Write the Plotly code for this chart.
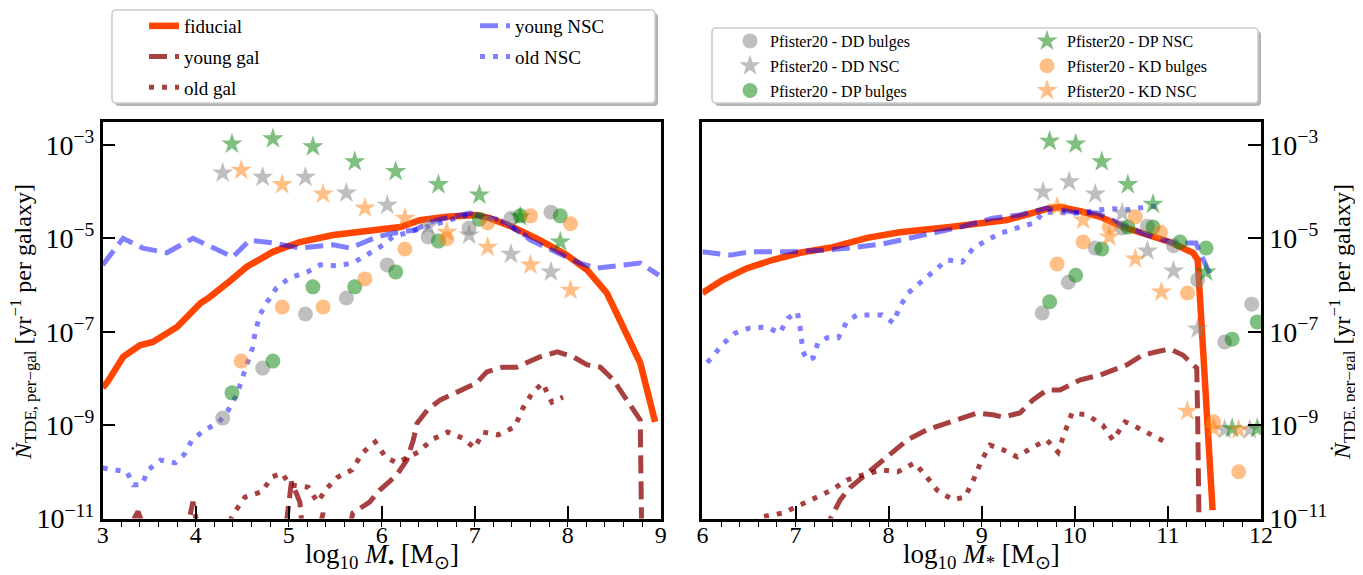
import plotly.graph_objects as go
import numpy as np

# ---------------- DATA (y values stored as log10 of the rate) ----------------
# Left panel: x = log10 M_bh
fid_L_x = [3.0, 3.05, 3.22, 3.40, 3.54, 3.80, 4.05, 4.15, 4.34, 4.55, 4.83, 5.12, 5.48, 5.84, 6.20, 6.41, 6.70, 7.02, 7.16, 7.41, 7.70, 7.99, 8.21, 8.42, 8.46, 8.56, 8.78, 8.94]
fid_L_y = [-8.2, -8.08, -7.54, -7.29, -7.22, -6.90, -6.39, -6.26, -5.96, -5.61, -5.29, -5.08, -4.93, -4.86, -4.76, -4.61, -4.54, -4.50, -4.57, -4.76, -5.04, -5.36, -5.68, -6.17, -6.32, -6.75, -7.67, -8.93]

ygal_L_x = [3.2, 3.38, 3.5, 3.88, 3.97, 4.05, 4.95, 5.03, 5.12, 5.16, 5.30, 5.37, 5.42, 5.62, 5.69, 5.87, 5.98, 6.16, 6.27, 6.34, 6.38, 6.49, 6.63, 6.84, 7.02, 7.13, 7.30, 7.45, 7.70, 7.89, 8.06, 8.21, 8.35, 8.49, 8.64, 8.78, 8.80]
ygal_L_y = [-11.5, -10.85, -11.5, -11.5, -10.64, -11.5, -11.5, -10.21, -10.65, -11.5, -11.5, -10.88, -11.5, -11.5, -10.88, -10.65, -10.39, -10.07, -9.75, -9.32, -8.96, -8.68, -8.46, -8.25, -8.10, -7.86, -7.76, -7.76, -7.54, -7.43, -7.54, -7.71, -7.76, -8.03, -8.46, -8.89, -12.0]

ogal_L_x = [4.30, 4.42, 4.53, 4.71, 4.82, 4.93, 5.01, 5.21, 5.31, 5.41, 5.53, 5.68, 5.79, 5.93, 6.04, 6.16, 6.22, 6.39, 6.55, 6.71, 6.87, 7.00, 7.09, 7.25, 7.43, 7.52, 7.62, 7.73, 7.83, 7.95]
ogal_L_y = [-11.3, -10.86, -10.54, -10.43, -10.11, -10.03, -10.28, -10.33, -10.65, -10.35, -10.11, -9.96, -9.60, -9.36, -9.68, -9.81, -9.75, -9.58, -9.30, -9.15, -9.28, -9.49, -9.15, -9.21, -9.04, -8.63, -8.31, -8.10, -8.51, -8.40]

ynsc_L_x = [3.0, 3.22, 3.43, 3.69, 3.97, 4.19, 4.40, 4.58, 4.83, 5.12, 5.48, 5.66, 5.95, 6.12, 6.34, 6.59, 6.95, 7.06, 7.30, 7.60, 7.89, 8.13, 8.31, 8.56, 8.78, 8.98]
ynsc_L_y = [-5.57, -5.00, -5.21, -5.31, -5.00, -5.19, -5.40, -5.04, -5.10, -5.21, -5.14, -5.21, -4.97, -4.89, -4.83, -4.61, -4.46, -4.54, -4.61, -5.04, -5.31, -5.53, -5.64, -5.57, -5.53, -5.79]

onsc_L_x = [3.0, 3.10, 3.26, 3.33, 3.42, 3.49, 3.62, 3.78, 3.88, 3.96, 4.10, 4.24, 4.35, 4.44, 4.50, 4.61, 4.64, 4.69, 4.77, 4.87, 5.01, 5.20, 5.34, 5.52, 5.69, 5.84, 5.98, 6.12, 6.34, 6.63, 6.95, 7.27, 7.60]
onsc_L_y = [-9.92, -9.96, -10.00, -10.28, -10.28, -9.96, -9.75, -9.81, -9.62, -9.32, -9.10, -8.96, -8.68, -8.36, -8.03, -7.35, -7.01, -6.64, -6.36, -6.06, -5.85, -5.72, -5.57, -5.59, -5.53, -5.36, -5.19, -4.97, -4.84, -4.65, -4.48, -4.61, -5.00]

# Pfister20 points, left panel
ddb_L_x = [4.29, 4.72, 5.18, 5.62, 6.06, 6.50, 6.94, 7.39, 7.82]
ddb_L_y = [-8.85, -7.78, -6.62, -6.28, -5.57, -4.97, -4.78, -4.57, -4.44]
ddn_L_x = [4.29, 4.72, 5.18, 5.62, 6.06, 6.50, 6.94, 7.39, 7.82]
ddn_L_y = [-3.60, -3.69, -3.69, -4.03, -4.29, -4.74, -4.93, -5.34, -5.72]
dpb_L_x = [4.39, 4.83, 5.26, 5.71, 6.15, 6.61, 7.05, 7.49, 7.92]
dpb_L_y = [-8.31, -7.63, -6.04, -6.04, -5.72, -5.06, -4.59, -4.52, -4.52]
dpn_L_x = [4.39, 4.83, 5.26, 5.71, 6.15, 6.61, 7.05, 7.49, 7.92]
dpn_L_y = [-2.98, -2.87, -3.04, -3.36, -3.57, -3.85, -4.07, -4.54, -5.08]
kdb_L_x = [4.49, 4.93, 5.37, 5.82, 6.25, 6.70, 7.14, 7.60, 8.03]
kdb_L_y = [-7.63, -6.47, -6.47, -5.87, -5.23, -5.01, -4.67, -4.52, -4.69]
kdn_L_x = [4.49, 4.93, 5.37, 5.82, 6.25, 6.70, 7.14, 7.60, 8.03]
kdn_L_y = [-3.54, -3.85, -4.05, -4.35, -4.57, -4.87, -5.19, -5.57, -6.11]

# Right panel: x = log10 M_star
fid_R_x = [6.0, 6.22, 6.48, 6.76, 7.05, 7.40, 7.77, 8.12, 8.66, 8.98, 9.27, 9.70, 9.84, 10.06, 10.27, 10.52, 10.78, 11.02, 11.27, 11.32, 11.38, 11.45, 11.48]
fid_R_y = [-6.17, -5.89, -5.64, -5.46, -5.31, -5.19, -4.99, -4.87, -4.76, -4.69, -4.61, -4.37, -4.33, -4.42, -4.54, -4.76, -4.93, -5.08, -5.31, -5.46, -7.46, -9.60, -10.82]

ygal_R_x = [7.30, 7.40, 7.48, 7.59, 7.77, 7.98, 8.20, 8.41, 8.63, 8.80, 8.95, 9.12, 9.23, 9.41, 9.55, 9.70, 9.84, 10.06, 10.27, 10.56, 10.73, 10.88, 11.02, 11.16, 11.31, 11.32, 11.34]
ygal_R_y = [-11.3, -10.88, -10.60, -10.33, -10.03, -9.68, -9.32, -9.10, -8.96, -8.83, -8.74, -8.78, -8.83, -8.74, -8.46, -8.25, -8.25, -8.03, -7.93, -7.71, -7.50, -7.43, -7.37, -7.50, -7.78, -8.89, -12.0]

ogal_R_x = [6.45, 6.62, 6.87, 7.02, 7.21, 7.39, 7.55, 7.72, 7.93, 8.10, 8.28, 8.41, 8.52, 8.69, 8.82, 8.91, 9.00, 9.09, 9.23, 9.38, 9.55, 9.70, 9.82, 9.89, 9.97, 10.13, 10.30, 10.41, 10.54, 10.64, 10.82, 10.99]
ogal_R_y = [-11.3, -10.97, -10.88, -10.75, -10.56, -10.39, -10.18, -10.07, -9.96, -10.00, -9.81, -10.11, -10.39, -10.60, -10.54, -10.18, -9.75, -9.43, -9.53, -9.68, -9.47, -9.32, -9.58, -9.17, -8.74, -8.78, -9.00, -9.32, -8.93, -9.02, -9.21, -9.38]

ynsc_R_x = [6.0, 6.30, 6.51, 6.97, 7.34, 7.58, 7.94, 8.30, 8.77, 9.12, 9.41, 9.70, 9.98, 10.24, 10.52, 10.78, 11.06, 11.30, 11.48]
ynsc_R_y = [-5.29, -5.36, -5.29, -5.29, -5.25, -5.21, -5.12, -4.97, -4.76, -4.57, -4.50, -4.35, -4.44, -4.46, -4.72, -4.93, -5.10, -5.10, -5.90]

onsc_R_x = [6.05, 6.10, 6.21, 6.35, 6.51, 6.69, 6.83, 6.92, 7.02, 7.05, 7.08, 7.13, 7.19, 7.24, 7.34, 7.46, 7.55, 7.66, 7.80, 7.93, 8.05, 8.12, 8.21, 8.34, 8.48, 8.63, 8.79, 8.91, 9.06, 9.20, 9.41, 9.57, 9.66, 9.84, 10.06, 10.27, 10.41, 10.59, 10.81, 10.94]
onsc_R_y = [-7.66, -7.56, -7.28, -7.03, -6.92, -6.90, -7.03, -6.71, -6.58, -6.92, -7.43, -7.61, -7.56, -7.24, -7.13, -7.13, -6.79, -6.64, -6.64, -6.64, -6.81, -6.47, -6.17, -5.96, -5.72, -5.46, -5.51, -5.21, -5.04, -4.89, -4.76, -4.67, -4.44, -4.46, -4.46, -4.39, -4.37, -4.39, -4.31, -4.33]

# Pfister20 points, right panel
ddb_R_x = [9.65, 9.93, 10.22, 10.51, 10.78, 11.06, 11.32, 11.61, 11.90]
ddb_R_y = [-6.60, -5.94, -5.21, -4.78, -4.74, -5.16, -5.89, -7.22, -6.41]
ddn_R_x = [9.66, 9.94, 10.22, 10.51, 10.78, 11.06, 11.32, 11.61, 11.88]
ddn_R_y = [-4.01, -3.79, -4.05, -4.46, -5.27, -5.70, -6.94, -9.10, -9.10]
dpb_R_x = [9.73, 10.01, 10.29, 10.57, 10.84, 11.13, 11.41, 11.69, 11.96]
dpb_R_y = [-6.36, -5.79, -5.23, -4.76, -4.76, -5.08, -5.21, -7.16, -6.79]
dpn_R_x = [9.73, 10.01, 10.29, 10.57, 10.84, 11.41, 11.69, 11.96]
dpn_R_y = [-2.92, -2.98, -3.36, -3.85, -4.27, -5.72, -9.07, -9.07]
kdb_R_x = [9.81, 10.09, 10.37, 10.65, 10.92, 11.21, 11.49, 11.76]
kdb_R_y = [-5.55, -5.08, -4.76, -4.54, -4.87, -6.17, -8.93, -10.00]
kdn_R_x = [9.81, 10.09, 10.37, 10.65, 10.93, 11.21, 11.49, 11.76]
kdn_R_y = [-4.33, -4.61, -4.97, -5.44, -6.15, -8.70, -9.07, -9.10]

y_tick_exp = [-11, -9, -7, -5, -3]
x_ticks_L = [3, 4, 5, 6, 7, 8, 9]
x_ticks_R = [6, 7, 8, 9, 10, 11, 12]

# ---------------- STYLE ----------------
SERIF = "Liberation Serif"
# the page places the figure 8 px from the window's top-left corner
OFF = 8
WIN_W, WIN_H = 1363, 575
W, H = WIN_W - OFF, WIN_H - OFF
C_FID = "#ff4500"
C_GAL = "rgba(139,0,0,0.75)"
C_NSC = "rgba(0,0,255,0.5)"
C_GREY = "rgba(128,128,128,0.5)"
C_GREEN = "rgba(0,128,0,0.5)"
C_ORANGE = "rgba(255,127,14,0.5)"
DASH = "18px,8px"
DOT = "5px,8px"

def pw(v):
    return [10.0 ** e for e in v]

fig = go.Figure()

line_specs = [
    ("fiducial", fid_L_x, fid_L_y, fid_R_x, fid_R_y, C_FID, "solid", 6.5, "legend"),
    ("young gal", ygal_L_x, ygal_L_y, ygal_R_x, ygal_R_y, C_GAL, DASH, 5, "legend"),
    ("old gal", ogal_L_x, ogal_L_y, ogal_R_x, ogal_R_y, C_GAL, DOT, 5, "legend"),
    ("young NSC", ynsc_L_x, ynsc_L_y, ynsc_R_x, ynsc_R_y, C_NSC, DASH, 5, "legend2"),
    ("old NSC", onsc_L_x, onsc_L_y, onsc_R_x, onsc_R_y, C_NSC, DOT, 5, "legend2"),
]
for name, lx, ly, rx, ry, col, dash, wd, lg in line_specs:
    fig.add_trace(go.Scatter(x=lx, y=pw(ly), mode="lines", name=name,
                             line=dict(color=col, width=wd, dash=dash),
                             legend=lg, legendgroup=name, showlegend=True,
                             xaxis="x", yaxis="y"))
    fig.add_trace(go.Scatter(x=rx, y=pw(ry), mode="lines", name=name,
                             line=dict(color=col, width=wd, dash=dash),
                             legend=lg, legendgroup=name, showlegend=False,
                             xaxis="x2", yaxis="y2"))

pt_specs = [
    ("Pfister20 - DD bulges", ddb_L_x, ddb_L_y, ddb_R_x, ddb_R_y, C_GREY, "circle", "legend3"),
    ("Pfister20 - DD NSC", ddn_L_x, ddn_L_y, ddn_R_x, ddn_R_y, C_GREY, "star", "legend3"),
    ("Pfister20 - DP bulges", dpb_L_x, dpb_L_y, dpb_R_x, dpb_R_y, C_GREEN, "circle", "legend3"),
    ("Pfister20 - DP NSC", dpn_L_x, dpn_L_y, dpn_R_x, dpn_R_y, C_GREEN, "star", "legend4"),
    ("Pfister20 - KD bulges", kdb_L_x, kdb_L_y, kdb_R_x, kdb_R_y, C_ORANGE, "circle", "legend4"),
    ("Pfister20 - KD NSC", kdn_L_x, kdn_L_y, kdn_R_x, kdn_R_y, C_ORANGE, "star", "legend4"),
]
for name, lx, ly, rx, ry, col, sym, lg in pt_specs:
    size = 15 if sym == "circle" else 16
    mk = dict(color=col, symbol=sym, size=size, line=dict(width=0))
    fig.add_trace(go.Scatter(x=lx, y=pw(ly), mode="markers", name=name, marker=mk,
                             legend=lg, legendgroup=name, showlegend=True,
                             xaxis="x", yaxis="y"))
    fig.add_trace(go.Scatter(x=rx, y=pw(ry), mode="markers", name=name, marker=mk,
                             legend=lg, legendgroup=name, showlegend=False,
                             xaxis="x2", yaxis="y2"))

# ---------------- AXES ----------------
# positions below are given in window pixels
def px2fx(p):
    return (p - OFF) / W

def py2fy(p):
    return 1 - (p - OFF) / H

tick_text = ["10<sup>\u2212%d</sup>" % (-e) for e in y_tick_exp]
tick_vals = [10.0 ** e for e in y_tick_exp]

common_x = dict(showgrid=False, zeroline=False, showline=True, linecolor="black", linewidth=2.5,
                mirror=True, ticks="inside", ticklen=13, tickwidth=2.2, tickcolor="black",
                tickfont=dict(family=SERIF, size=24, color="black"), automargin=False,
                ticklabelstandoff=-7,
                minor=dict(ticks="outside", ticklen=6, tickwidth=1.4, tickcolor="black", dtick=0.2))
common_y = dict(type="log", range=[-11, -2.51], showgrid=False, zeroline=False, showline=True,
                linecolor="black", linewidth=2.5, mirror=True, ticks="inside", ticklen=13,
                tickwidth=2.2, tickcolor="black", tickvals=tick_vals, ticktext=tick_text,
                tickfont=dict(family=SERIF, size=28, color="black"), automargin=False)

fig.update_layout(
    xaxis=dict(domain=[px2fx(102.7), px2fx(660.7)], range=[3, 9], tickvals=x_ticks_L,
               anchor="y", **common_x),
    yaxis=dict(domain=[py2fy(518.5), py2fy(122)], anchor="x", side="left", **common_y),
    xaxis2=dict(domain=[px2fx(702.4), px2fx(1261)], range=[6, 12], tickvals=x_ticks_R,
                anchor="y2", **common_x),
    yaxis2=dict(domain=[py2fy(518.5), py2fy(122)], anchor="x2", side="right", **common_y),
)

# axis titles as annotations
ytitle = "<i>\u1e44</i><sub>TDE, per\u2212gal</sub> [yr<sup>\u22121</sup> per galaxy]"
xtitle_L = "log<sub>10</sub> <i>M</i><sub>\u2022</sub> [M<sub>\u2299</sub>]"
xtitle_R = "log<sub>10</sub> <i>M</i><sub>*</sub> [M<sub>\u2299</sub>]"
ann = [
    dict(text=xtitle_L, x=px2fx(381.7), y=py2fy(556), xref="paper", yref="paper",
         xanchor="center", yanchor="middle", showarrow=False,
         font=dict(family=SERIF, size=27, color="black")),
    dict(text=xtitle_R, x=px2fx(981.7), y=py2fy(556), xref="paper", yref="paper",
         xanchor="center", yanchor="middle", showarrow=False,
         font=dict(family=SERIF, size=27, color="black")),
    dict(text=ytitle, x=px2fx(23), y=py2fy(322), xref="paper", yref="paper", textangle=-90,
         xanchor="center", yanchor="middle", showarrow=False,
         font=dict(family=SERIF, size=24, color="black")),
    dict(text=ytitle, x=px2fx(1342), y=py2fy(322), xref="paper", yref="paper", textangle=-90,
         xanchor="center", yanchor="middle", showarrow=False,
         font=dict(family=SERIF, size=24, color="black")),
]

# ---------------- LEGENDS ----------------
def leg(xpx, ypx, size, gap):
    return dict(x=px2fx(xpx), y=py2fy(ypx), xanchor="left", yanchor="top",
                bgcolor="rgba(0,0,0,0)", borderwidth=0, orientation="v",
                font=dict(family=SERIF, size=size, color="black"), tracegroupgap=gap,
                itemsizing="trace")

fig.update_layout(
    legend=leg(144, 7, 19, 3),
    legend2=leg(475, 7, 19, 3),
    legend3=leg(730, 24, 16, 1),
    legend4=leg(1027, 24, 16, 1),
)

def rounded(x0, y0, x1, y1, r):
    X = lambda v: "%.5f" % px2fx(v)
    Y = lambda v: "%.5f" % py2fy(v)
    return ("M %s,%s L %s,%s Q %s,%s %s,%s L %s,%s Q %s,%s %s,%s L %s,%s Q %s,%s %s,%s L %s,%s Q %s,%s %s,%s Z" % (
        X(x0 + r), Y(y0), X(x1 - r), Y(y0), X(x1), Y(y0), X(x1), Y(y0 + r),
        X(x1), Y(y1 - r), X(x1), Y(y1), X(x1 - r), Y(y1),
        X(x0 + r), Y(y1), X(x0), Y(y1), X(x0), Y(y1 - r),
        X(x0), Y(y0 + r), X(x0), Y(y0), X(x0 + r), Y(y0)))

shapes = []
for (x0, y0, x1, y1) in [(112, 10, 655, 103), (712, 28, 1258, 103)]:
    shapes.append(dict(type="path", xref="paper", yref="paper", path=rounded(x0 + 3, y0 + 3, x1 + 3, y1 + 3, 4),
                       fillcolor="rgba(130,130,130,0.6)", line=dict(width=0), layer="above"))
    shapes.append(dict(type="path", xref="paper", yref="paper", path=rounded(x0, y0, x1, y1, 4),
                       fillcolor="white", line=dict(color="#cccccc", width=1.5), layer="above"))

fig.update_layout(
    width=W, height=H, margin=dict(l=0, r=0, t=0, b=0, autoexpand=False),
    paper_bgcolor="white", plot_bgcolor="white",
    font=dict(family=SERIF, color="black"),
    shapes=shapes, annotations=ann, showlegend=True,
)

fig.write_html("out.html")
